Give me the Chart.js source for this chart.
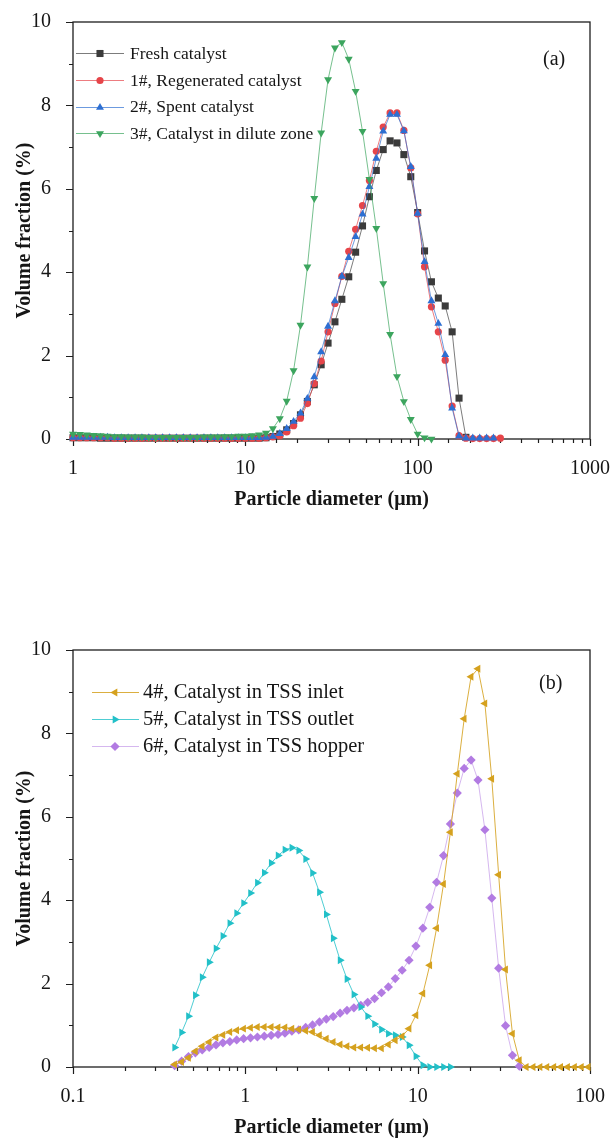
<!DOCTYPE html>
<html>
<head>
<meta charset="utf-8">
<title>Particle size distribution</title>
<script src="https://cdn.jsdelivr.net/npm/chart.js@4.4.1/dist/chart.umd.min.js"></script>
<style>
  html, body { margin: 0; padding: 0; background: #fff; }
  body { position: relative; width: 612px; height: 1139px; overflow: hidden;
         font-family: "Liberation Serif", "Times New Roman", serif; color: #161616; }
  .panel { position: absolute; left: 0; width: 612px; height: 520px; }
  #panelA { top: 0; }
  #panelB { top: 628px; }
  .legend { position: absolute; }
  .legend .row { display: flex; align-items: center; white-space: nowrap; }
  .legend canvas { display: block; }
  .tag { position: absolute; font-size: 20px; line-height: 20px; }
</style>
</head>
<body>
<div class="panel" id="panelA"><canvas id="chartA" width="612" height="520"></canvas></div>
<div class="panel" id="panelB"><canvas id="chartB" width="612" height="520"></canvas></div>
<div class="legend" id="legendA" style="left:76px; top:40px; font-size:17.5px;"></div>
<div class="legend" id="legendB" style="left:92px; top:678px; font-size:20.5px;"></div>
<div class="tag" style="left:543px; top:48px;">(a)</div>
<div class="tag" style="left:539px; top:672px;">(b)</div>

<script>
// ---- data (a): particle diameter (um) and volume fraction (%) ----
const diamA = [1, 1.096, 1.202, 1.318, 1.445, 1.585, 1.738, 1.905, 2.089, 2.291,
  2.512, 2.754, 3.020, 3.311, 3.631, 3.981, 4.365, 4.786, 5.248, 5.754,
  6.310, 6.918, 7.586, 8.318, 9.120, 10, 10.96, 12.02, 13.18, 14.45,
  15.85, 17.38, 19.05, 20.89, 22.91, 25.12, 27.54, 30.20, 33.11, 36.31,
  39.81, 43.65, 47.86, 52.48, 57.54, 63.10, 69.18, 75.86, 83.18, 91.20,
  100, 109.6, 120.2, 131.8, 144.5, 158.5, 173.8, 190.5, 208.9, 229.1,
  251.2, 275.4, 302.0];

const fresh = [0.03, 0.03, 0.03, 0.03, 0.02, 0.02, 0.02, 0.02, 0.02, 0.02,
  0.02, 0.02, 0.02, 0.02, 0.02, 0.02, 0.02, 0.02, 0.02, 0.02,
  0.02, 0.02, 0.02, 0.02, 0.02, 0.02, 0.02, 0.02, 0.03, 0.06,
  0.12, 0.22, 0.37, 0.58, 0.90, 1.30, 1.78, 2.30, 2.81, 3.35,
  3.89, 4.48, 5.11, 5.81, 6.44, 6.94, 7.15, 7.10, 6.82, 6.29,
  5.43, 4.51, 3.77, 3.38, 3.19, 2.57, 0.98, 0.04, null, null,
  null, null, null];

const regenerated = [0.03, 0.03, 0.03, 0.03, 0.03, 0.03, 0.02, 0.02, 0.02, 0.02,
  0.02, 0.02, 0.02, 0.02, 0.02, 0.02, 0.02, 0.02, 0.02, 0.02,
  0.02, 0.02, 0.02, 0.02, 0.02, 0.02, 0.02, 0.02, 0.03, 0.05,
  0.08, 0.17, 0.32, 0.50, 0.85, 1.33, 1.87, 2.57, 3.25, 3.90,
  4.50, 5.03, 5.60, 6.20, 6.90, 7.48, 7.82, 7.82, 7.40, 6.50,
  5.40, 4.13, 3.17, 2.57, 1.89, 0.79, 0.08, 0.02, 0.01, 0.01,
  0.01, 0.01, 0.02];

const spent = [0.04, 0.04, 0.04, 0.04, 0.04, 0.04, 0.03, 0.03, 0.03, 0.03,
  0.03, 0.03, 0.03, 0.03, 0.03, 0.03, 0.03, 0.03, 0.03, 0.03,
  0.03, 0.03, 0.03, 0.03, 0.03, 0.03, 0.03, 0.03, 0.04, 0.06,
  0.13, 0.25, 0.42, 0.62, 0.97, 1.49, 2.09, 2.70, 3.31, 3.90,
  4.35, 4.85, 5.39, 6.05, 6.73, 7.38, 7.78, 7.78, 7.39, 6.53,
  5.41, 4.25, 3.31, 2.77, 2.02, 0.74, 0.07, 0.02, 0.02, 0.02,
  0.02, 0.02, null];

const dilute = [0.12, 0.11, 0.10, 0.09, 0.08, 0.07, 0.06, 0.06, 0.05, 0.05,
  0.05, 0.04, 0.04, 0.04, 0.04, 0.04, 0.04, 0.04, 0.04, 0.05,
  0.05, 0.05, 0.06, 0.06, 0.07, 0.07, 0.08, 0.10, 0.14, 0.25,
  0.49, 0.91, 1.64, 2.73, 4.13, 5.77, 7.34, 8.62, 9.38, 9.51,
  9.11, 8.34, 7.38, 6.23, 5.05, 3.73, 2.51, 1.50, 0.90, 0.47,
  0.12, 0.03, 0.00, null, null, null, null, null, null, null,
  null, null, null];

// ---- data (b) ----
const diamB = [0.389, 0.427, 0.468, 0.513, 0.562, 0.617, 0.676, 0.741, 0.813, 0.891,
  0.977, 1.072, 1.175, 1.288, 1.413, 1.549, 1.698, 1.862, 2.042, 2.239,
  2.455, 2.692, 2.951, 3.236, 3.548, 3.890, 4.266, 4.677, 5.129, 5.623,
  6.166, 6.761, 7.413, 8.128, 8.913, 9.772, 10.72, 11.75, 12.88, 14.13,
  15.49, 16.98, 18.62, 20.42, 22.39, 24.55, 26.92, 29.51, 32.36, 35.48,
  38.90, 42.66, 46.77, 51.29, 56.23, 61.66, 67.61, 74.13, 81.28, 89.13,
  97.72];

const tssInlet = [0.06, 0.12, 0.22, 0.38, 0.50, 0.60, 0.71, 0.77, 0.84, 0.88,
  0.92, 0.94, 0.96, 0.96, 0.96, 0.95, 0.95, 0.92, 0.90, 0.87,
  0.84, 0.76, 0.68, 0.60, 0.54, 0.50, 0.47, 0.47, 0.46, 0.45,
  0.45, 0.54, 0.64, 0.74, 0.92, 1.24, 1.76, 2.44, 3.33, 4.39,
  5.63, 7.03, 8.35, 9.36, 9.55, 8.72, 6.91, 4.61, 2.34, 0.80,
  0.16, 0, 0, 0, 0, 0, 0, 0, 0, 0,
  0];

const tssOutlet = [0.47, 0.83, 1.22, 1.72, 2.15, 2.51, 2.84, 3.14, 3.45, 3.69,
  3.93, 4.17, 4.42, 4.66, 4.89, 5.07, 5.21, 5.26, 5.19, 4.99,
  4.65, 4.19, 3.66, 3.09, 2.56, 2.11, 1.74, 1.44, 1.22, 1.03,
  0.90, 0.80, 0.76, 0.72, 0.52, 0.26, 0.04, 0, 0, 0,
  0, null, null, null, null, null, null, null, null, null,
  null, null, null, null, null, null, null, null, null, null,
  null];

const tssHopper = [0.03, 0.14, 0.25, 0.34, 0.41, 0.47, 0.53, 0.58, 0.61, 0.65,
  0.68, 0.70, 0.72, 0.74, 0.76, 0.78, 0.81, 0.86, 0.89, 0.95,
  1.01, 1.08, 1.15, 1.21, 1.29, 1.36, 1.42, 1.48, 1.55, 1.64,
  1.78, 1.92, 2.12, 2.32, 2.56, 2.90, 3.33, 3.83, 4.43, 5.07,
  5.83, 6.57, 7.16, 7.36, 6.88, 5.69, 4.05, 2.37, 0.99, 0.28,
  0.02, null, null, null, null, null, null, null, null, null,
  null];

// ---- styles ----
const stylesA = [
  {label: 'Fresh catalyst', color: '#3b3b3b', line: 'rgba(80,80,80,0.75)', shape: 'rect', rot: 0, r: 5},
  {label: '1#, Regenerated catalyst', color: '#e6454a', line: 'rgba(230,69,74,0.7)', shape: 'circle', rot: 0, r: 3.6},
  {label: '2#, Spent catalyst', color: '#2d6fd2', line: 'rgba(45,111,210,0.7)', shape: 'triangle', rot: 0, r: 4.6},
  {label: '3#, Catalyst in dilute zone', color: '#3ca55e', line: 'rgba(60,165,94,0.7)', shape: 'triangle', rot: 180, r: 4.6}
];
const stylesB = [
  {label: '4#, Catalyst in TSS inlet', color: '#d5a11e', line: 'rgba(213,161,30,0.85)', shape: 'triangle', rot: 270, r: 4.6},
  {label: '5#, Catalyst in TSS outlet', color: '#22c0c8', line: 'rgba(34,192,200,0.8)', shape: 'triangle', rot: 90, r: 4.6},
  {label: '6#, Catalyst in TSS hopper', color: '#b27be2', line: 'rgba(178,123,226,0.55)', shape: 'rectRot', rot: 0, r: 4.6}
];

Chart.defaults.font.family = '"Liberation Serif", "Times New Roman", serif';
Chart.defaults.color = '#161616';

function isDecade(v) {
  const l = Math.log10(v);
  return Math.abs(l - Math.round(l)) < 1e-9;
}

// box round the plot and outward tick marks, long on labelled ticks
const frameTicks = {
  id: 'frameTicks',
  beforeDatasetsDraw(chart) {
    const {ctx, chartArea: a, scales: {x, y}} = chart;
    ctx.save();
    ctx.strokeStyle = '#1e1e1e';
    ctx.lineWidth = 1.3;
    ctx.strokeRect(a.left, a.top, a.right - a.left, a.bottom - a.top);
    ctx.lineWidth = 1.2;
    ctx.beginPath();
    x.ticks.forEach(t => {
      const px = Math.round(x.getPixelForValue(t.value)) + 0.5;
      ctx.moveTo(px, a.bottom);
      ctx.lineTo(px, a.bottom + (isDecade(t.value) ? 7 : 4));
    });
    y.ticks.forEach(t => {
      const py = Math.round(y.getPixelForValue(t.value)) + 0.5;
      ctx.moveTo(a.left, py);
      ctx.lineTo(a.left - (t.value % 2 === 0 ? 7 : 4), py);
    });
    ctx.stroke();
    ctx.restore();
  }
};

function makeSet(xs, ys, s, order) {
  const pts = [];
  xs.forEach((d, i) => { if (ys[i] !== null) pts.push({x: d, y: ys[i]}); });
  return {
    label: s.label, data: pts, order: order,
    borderColor: s.line, borderWidth: 1, backgroundColor: s.color,
    pointStyle: s.shape, pointRotation: s.rot, pointRadius: s.r,
    pointBackgroundColor: s.color, pointBorderColor: s.color, pointBorderWidth: 0,
    tension: 0, clip: false
  };
}

function makeOptions(xMin, xMax) {
  return {
    responsive: false,
    animation: false,
    devicePixelRatio: 1,
    layout: {padding: {top: 22, right: 22, left: 0, bottom: 0}},
    plugins: {legend: {display: false}, tooltip: {enabled: false}},
    scales: {
      x: {
        type: 'logarithmic', min: xMin, max: xMax,
        grid: {display: false}, border: {display: false},
        afterFit: s => { s.height = 81; s.paddingLeft = 0; s.paddingRight = 0; },
        ticks: {
          autoSkip: false, maxRotation: 0, padding: 10, font: {size: 20},
          callback: v => isDecade(v) ? String(+v.toPrecision(2)) : ''
        },
        title: {display: true, text: 'Particle diameter (μm)', font: {size: 20, weight: 'bold'},
                padding: {top: 0, bottom: 8}}
      },
      y: {
        min: 0, max: 10,
        grid: {display: false}, border: {display: false},
        afterFit: s => { s.width = 73; s.paddingTop = 0; s.paddingBottom = 0; },
        ticks: {stepSize: 1, autoSkip: false, padding: 14, font: {size: 20},
                callback: v => v % 2 === 0 ? v : ''},
        title: {display: true, text: 'Volume fraction (%)', font: {size: 20, weight: 'bold'},
                padding: {top: 13, bottom: 0}}
      }
    }
  };
}

new Chart(document.getElementById('chartA'), {
  type: 'line',
  data: {datasets: [
    makeSet(diamA, fresh, stylesA[0], 4),
    makeSet(diamA, regenerated, stylesA[1], 3),
    makeSet(diamA, spent, stylesA[2], 2),
    makeSet(diamA, dilute, stylesA[3], 1)
  ]},
  options: makeOptions(1, 1000),
  plugins: [frameTicks]
});

new Chart(document.getElementById('chartB'), {
  type: 'line',
  data: {datasets: [
    makeSet(diamB, tssInlet, stylesB[0], 1),
    makeSet(diamB, tssOutlet, stylesB[1], 2),
    makeSet(diamB, tssHopper, stylesB[2], 3)
  ]},
  options: makeOptions(0.1, 100),
  plugins: [frameTicks]
});

// legend glyphs: short line with the marker in the middle
function markerPath(c, s, x, y) {
  const r = s.r;
  c.beginPath();
  if (s.shape === 'circle') {
    c.arc(x, y, r, 0, Math.PI * 2);
  } else if (s.shape === 'rect') {
    const h = r * Math.SQRT1_2;
    c.rect(x - h, y - h, 2 * h, 2 * h);
  } else if (s.shape === 'rectRot') {
    c.moveTo(x, y - r); c.lineTo(x + r, y); c.lineTo(x, y + r); c.lineTo(x - r, y);
    c.closePath();
  } else {
    let a = s.rot * Math.PI / 180;
    c.moveTo(x + Math.sin(a) * r, y - Math.cos(a) * r);
    a += 2 * Math.PI / 3;
    c.lineTo(x + Math.sin(a) * r, y - Math.cos(a) * r);
    a += 2 * Math.PI / 3;
    c.lineTo(x + Math.sin(a) * r, y - Math.cos(a) * r);
    c.closePath();
  }
}

function buildLegend(id, styles, glyphW, markX, gap, rowH) {
  const box = document.getElementById(id);
  styles.forEach(s => {
    const row = document.createElement('div');
    row.className = 'row';
    row.style.height = rowH + 'px';
    const cv = document.createElement('canvas');
    cv.width = glyphW; cv.height = 16;
    const c = cv.getContext('2d');
    c.strokeStyle = s.line; c.lineWidth = 1;
    c.beginPath(); c.moveTo(0, 8.5); c.lineTo(glyphW, 8.5); c.stroke();
    c.fillStyle = s.color;
    markerPath(c, s, markX, 8.5);
    c.fill();
    const span = document.createElement('span');
    span.textContent = s.label;
    span.style.marginLeft = gap + 'px';
    row.append(cv, span);
    box.appendChild(row);
  });
}

buildLegend('legendA', stylesA, 48, 24, 6, 26.7);
buildLegend('legendB', stylesB, 47, 23, 4, 27);
</script>
</body>
</html>
